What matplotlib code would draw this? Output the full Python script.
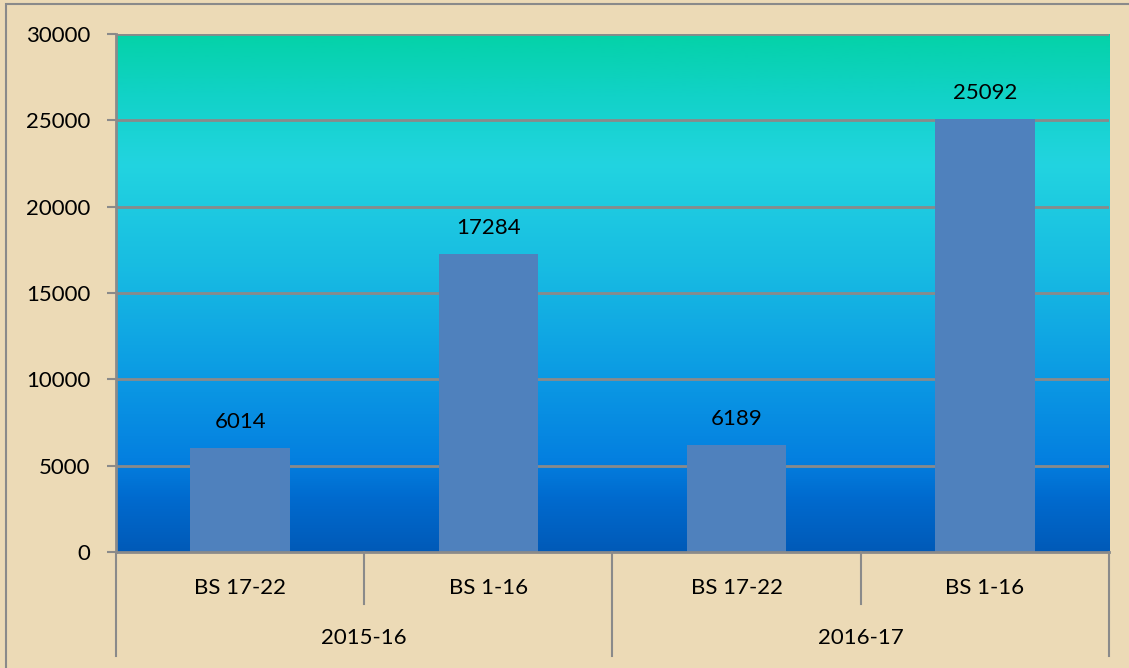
import numpy as np
import matplotlib
matplotlib.use("Agg")
import matplotlib.pyplot as plt
from matplotlib.colors import LinearSegmentedColormap
from matplotlib.transforms import blended_transform_factory
from matplotlib.patches import Rectangle

# chart data
years = ["2015-16", "2016-17"]
beats = ["BS 17-22", "BS 1-16"]
values = [6014, 17284, 6189, 25092]
y_ticks = [0, 5000, 10000, 15000, 20000, 25000, 30000]

plt.rcParams['font.family'] = ['Lato', 'DejaVu Sans']
fs = 16

bg = "#ecdab6"
grey = "#8a8a8a"
bar_col = "#4f81bd"

fig = plt.figure(figsize=(11.29, 6.68), dpi=100, facecolor=bg)
ax = fig.add_axes([0.1027, 0.1737, 0.8796, 0.7754])

n = len(years) * len(beats)
x = np.arange(n)

# background gradient of the plot area (bottom -> top)
grad = LinearSegmentedColormap.from_list("plotbg", [
    (0.00, "#005ab8"),
    (0.10, "#006ace"),
    (0.18, "#0480e0"),
    (0.35, "#0c9ce4"),
    (0.55, "#18bce2"),
    (0.75, "#22d4e0"),
    (0.88, "#12d2c8"),
    (1.00, "#04d2a8"),
])
ax.imshow(np.linspace(0, 1, 256).reshape(-1, 1), cmap=grad, origin="lower",
          aspect="auto", extent=(-0.5, n - 0.5, 0, 30000), zorder=0)

for t in y_ticks[1:]:
    ax.axhline(t, color=grey, lw=2, zorder=1)

ax.bar(x, values, width=0.4, color=bar_col, zorder=2)
for xi, v in zip(x, values):
    ax.annotate(str(v), (xi, v), xytext=(0, 26), textcoords="offset pixels",
                ha="center", va="center", fontsize=fs, color="black", zorder=3)

ax.set_xlim(-0.5, n - 0.5)
ax.set_ylim(0, 30000)
ax.set_yticks(y_ticks)
ax.set_yticklabels([str(t) for t in y_ticks], fontsize=fs)
ax.tick_params(axis="y", length=6.5, width=1.5, color=grey, pad=12)
ax.set_xticks([])
for s in ["top", "right"]:
    ax.spines[s].set_visible(False)
for s in ["left", "bottom"]:
    ax.spines[s].set_color(grey)
    ax.spines[s].set_linewidth(2)

# two level category axis
tr = blended_transform_factory(ax.transData, fig.transFigure)
y0 = 0.1737
y_inner = (668 - 604) / 668
y_outer = (668 - 656) / 668
for i in range(n + 1):
    xe = i - 0.5
    yb = y_outer if i % len(beats) == 0 else y_inner
    ax.plot([xe, xe], [y0, yb], color=grey, lw=1.5, transform=tr, clip_on=False)

for i in range(n):
    ax.text(x[i], (668 - 588) / 668, beats[i % len(beats)], transform=tr,
            ha="center", va="center", fontsize=fs)
for j, yr in enumerate(years):
    xc = j * len(beats) + (len(beats) - 1) / 2
    ax.text(xc, (668 - 638) / 668, yr, transform=tr,
            ha="center", va="center", fontsize=fs)

# outer chart border
fig.patches.append(Rectangle((6 / 1129, -0.1), 1.2, (668 - 4) / 668 + 0.1,
                             transform=fig.transFigure, fill=False,
                             edgecolor=grey, lw=1.5))

fig.savefig("out.png", dpi=100, facecolor=bg)
